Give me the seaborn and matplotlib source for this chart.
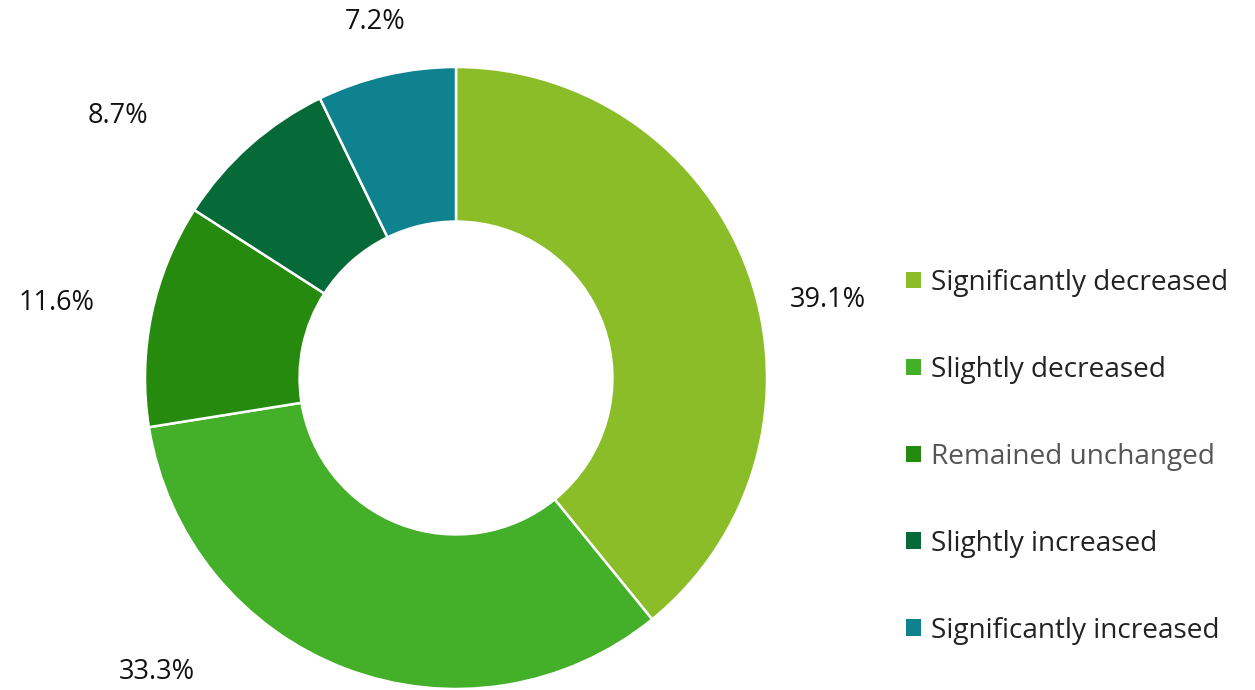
import matplotlib
matplotlib.use("Agg")
import matplotlib.pyplot as plt
from matplotlib.patches import Patch
import seaborn as sns

# Data
categories = ["Significantly decreased", "Slightly decreased", "Remained unchanged",
              "Slightly increased", "Significantly increased"]
shares = [39.1, 33.3, 11.6, 8.7, 7.2]
colors = ["#8abd28", "#44b02a", "#268a0f", "#056a38", "#0f8290"]

# label placement (in units of the outer radius), layout only
label_pos = [(1.196, 0.251), (-0.961, -0.945), (-1.283, 0.241), (-1.087, 0.842), (-0.260, 1.145)]

sns.set_theme(style="white")
plt.rcParams["font.family"] = ["Open Sans", "DejaVu Sans"]

fig = plt.figure(figsize=(12.55, 6.9), dpi=100)
# pie centre at (456, 378) px, outer radius 311 px
ax = fig.add_axes([145 / 1255, (690 - 378 - 311) / 690, 622 / 1255, 622 / 690])

wedges, _ = ax.pie(shares, colors=colors, startangle=90, counterclock=False,
                   radius=1.0, wedgeprops=dict(width=0.497, edgecolor="white", linewidth=1.8))
ax.set_xlim(-1, 1)
ax.set_ylim(-1, 1)
ax.set_aspect("equal")
ax.axis("off")

for val, (x, y) in zip(shares, label_pos):
    ax.text(x, y, f"{val}%", ha="center", va="center", fontsize=19.5,
            color="#111111", clip_on=False)

handles = [Patch(facecolor=c, edgecolor="none") for c in colors]
leg = fig.legend(handles, categories, loc="upper left", bbox_to_anchor=(906 / 1255, 1 - 269 / 690),
                 frameon=False, fontsize=20.2, labelspacing=2.1, handlelength=0.54,
                 handleheight=0.54, handletextpad=0.36, borderpad=0, borderaxespad=0)
for i, t in enumerate(leg.get_texts()):
    t.set_color("#555555" if i == 2 else "#222222")

fig.savefig("out.png", dpi=100, facecolor="white")
